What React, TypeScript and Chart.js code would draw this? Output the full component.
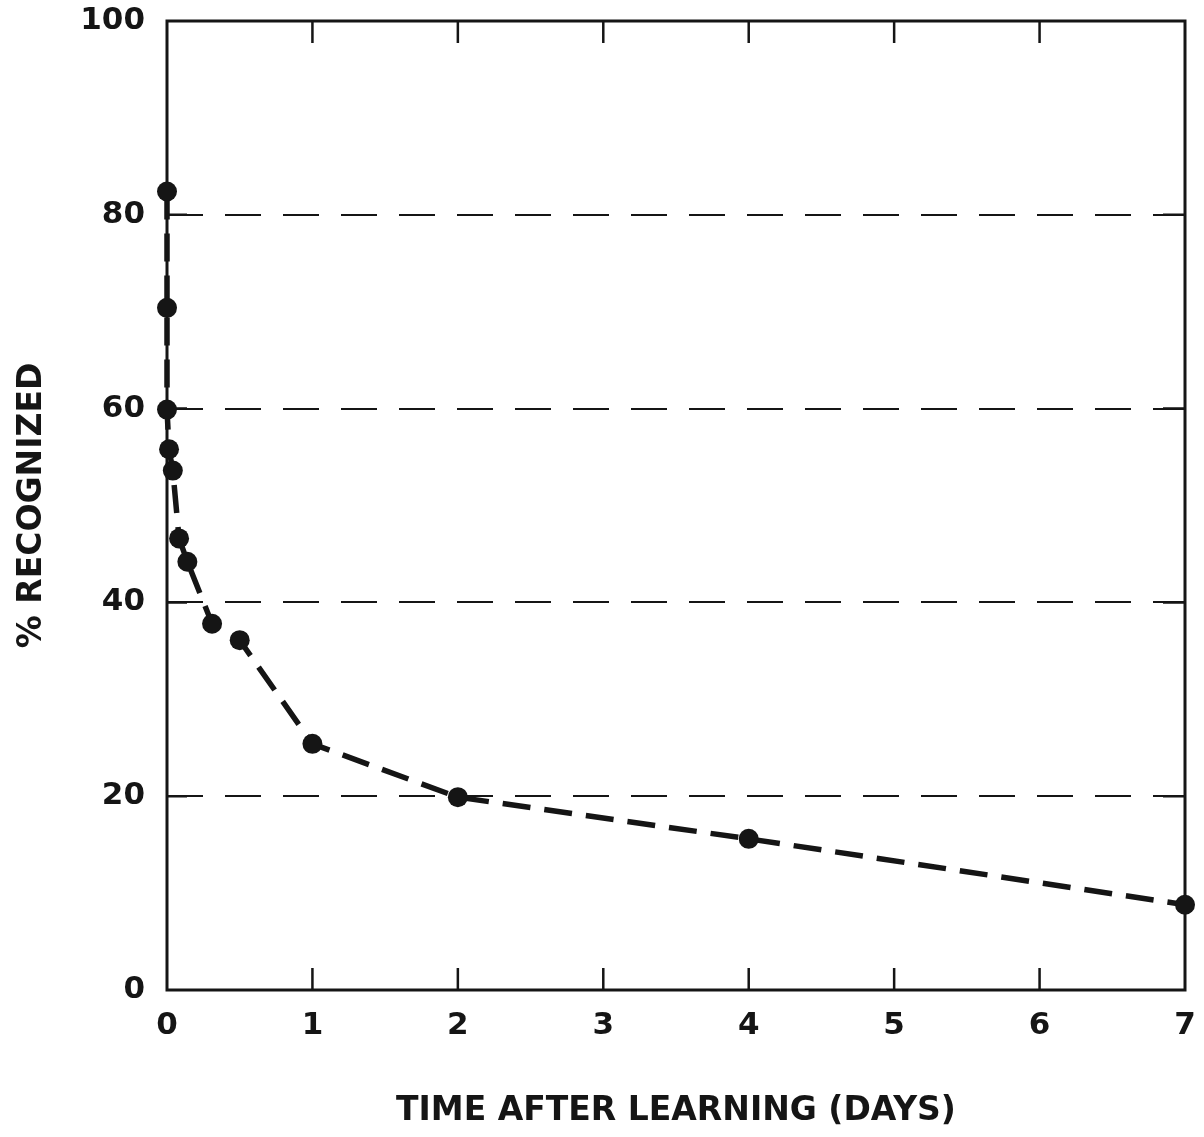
import React, { useEffect, useRef } from "react";
import { Chart, registerables } from "chart.js";

Chart.register(...registerables);

const days = [0, 0, 0, 0.014, 0.04, 0.083, 0.14, 0.31, 0.5, 1, 2, 4, 7];
const recognized = [82.4, 70.4, 59.9, 55.8, 53.6, 46.6, 44.2, 37.8, 36.1, 25.4, 19.9, 15.6, 8.8];
const xTickValues = [0, 1, 2, 3, 4, 5, 6, 7];
const yTickValues = [0, 20, 40, 60, 80, 100];
const xInnerTicks = [1, 2, 3, 4, 5, 6];
const yInnerTicks = [20, 40, 60, 80];
const xTitle = "TIME AFTER LEARNING (DAYS)";
const yTitle = "% RECOGNIZED";

const INK = "#151515";
const FONT = "'DejaVu Sans', 'Liberation Sans', sans-serif";

const framePlugin = {
  id: "frame",
  beforeDatasetsDraw(chart: any) {
    const { ctx, chartArea: a, scales } = chart;
    ctx.save();
    ctx.strokeStyle = INK;
    ctx.lineWidth = 3;
    ctx.strokeRect(a.left, a.top, a.right - a.left, a.bottom - a.top);
    ctx.lineWidth = 2.5;
    ctx.beginPath();
    for (const v of xInnerTicks) {
      const px = scales.x.getPixelForValue(v);
      ctx.moveTo(px, a.top);
      ctx.lineTo(px, a.top + 22);
      ctx.moveTo(px, a.bottom);
      ctx.lineTo(px, a.bottom - 22);
    }
    for (const v of yInnerTicks) {
      const py = scales.y.getPixelForValue(v);
      ctx.moveTo(a.left, py);
      ctx.lineTo(a.left + 20, py);
      ctx.moveTo(a.right, py);
      ctx.lineTo(a.right - 22, py);
    }
    ctx.stroke();
    ctx.restore();
  },
};

export default function App() {
  const ref = useRef<HTMLCanvasElement | null>(null);

  useEffect(() => {
    if (!ref.current) return;
    const chart = new Chart(ref.current, {
      type: "line",
      data: {
        datasets: [
          {
            data: days.map((d, i) => ({ x: d, y: recognized[i] })),
            borderColor: INK,
            backgroundColor: INK,
            borderWidth: 5.5,
            borderDash: [28, 14],
            pointRadius: 10,
            pointBackgroundColor: INK,
            pointBorderColor: INK,
            pointBorderWidth: 0,
            tension: 0,
            clip: false as any,
          },
        ],
      },
      options: {
        animation: false,
        responsive: false,
        maintainAspectRatio: false,
        layout: { padding: { top: 21, right: 19, left: 0, bottom: 0 } },
        plugins: { legend: { display: false }, tooltip: { enabled: false } },
        scales: {
          x: {
            type: "linear",
            min: 0,
            max: 7,
            afterFit: (s: any) => {
              s.height = 147;
              s.paddingLeft = 0;
              s.paddingRight = 0;
            },
            afterBuildTicks: (s: any) => {
              s.ticks = xTickValues.map((v) => ({ value: v }));
            },
            grid: { display: false, drawTicks: false },
            border: { display: false },
            ticks: {
              color: INK,
              padding: 17,
              font: { family: FONT, size: 31, weight: "bold" },
            },
            title: {
              display: true,
              text: xTitle,
              color: INK,
              padding: { top: 0, bottom: 6 },
              font: { family: FONT, size: 33, weight: "bold" },
            },
          },
          y: {
            type: "linear",
            min: 0,
            max: 100,
            afterFit: (s: any) => {
              s.width = 167;
              s.paddingTop = 0;
              s.paddingBottom = 0;
            },
            afterBuildTicks: (s: any) => {
              s.ticks = yTickValues.map((v) => ({ value: v }));
            },
            grid: {
              drawTicks: false,
              color: (c: any) =>
                c.tick && (c.tick.value === 0 || c.tick.value === 100) ? "rgba(0,0,0,0)" : INK,
              lineWidth: 2,
            },
            border: { display: false, dash: [36, 22] },
            ticks: {
              color: INK,
              padding: 22,
              font: { family: FONT, size: 31, weight: "bold" },
            },
            title: {
              display: true,
              text: yTitle,
              color: INK,
              padding: { top: 13, bottom: 0 },
              font: { family: FONT, size: 33, weight: "bold" },
            },
          },
        },
      },
      plugins: [framePlugin],
    });
    return () => chart.destroy();
  }, []);

  return (
    <div style={{ position: "absolute", left: 0, top: 0, width: 1204, height: 1137, background: "#fff" }}>
      <canvas ref={ref} width={1204} height={1137} style={{ display: "block" }} />
    </div>
  );
}
